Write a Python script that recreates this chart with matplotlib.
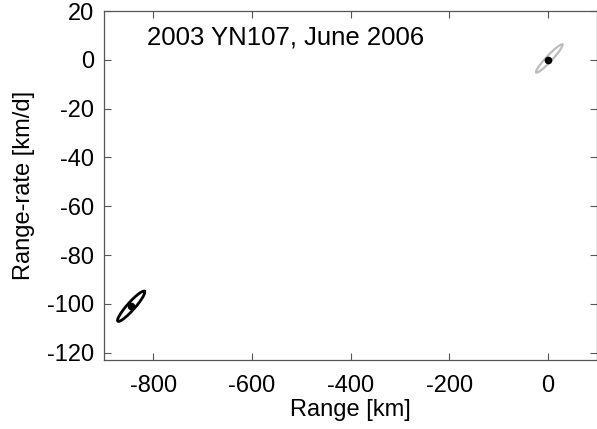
import numpy as np
import matplotlib
matplotlib.use("Agg")
import matplotlib.pyplot as plt

plt.rcParams['font.family'] = ['Liberation Sans', 'DejaVu Sans']
plt.rcParams['axes.unicode_minus'] = False

# Data
title_text = "2003 YN107, June 2006"
x_ticks = [-800, -600, -400, -200, 0]
y_ticks = [20, 0, -20, -40, -60, -80, -100, -120]
x_lim = [-900, 100]
y_lim = [-123, 20]

# Uncertainty ellipses: center, major half-axis vector, minor half-axis vector (data units)
gray_center = [3, 0.5]
gray_major = [26.4, 5.7]
gray_minor = [4.4, -0.84]

black_center = [-845, -101]
black_major = [27.0, 6.1]
black_minor = [5.6, -1.1]

# Observed points
obs_x = [0, -845]
obs_y = [0, -101]

t = np.linspace(0, 2 * np.pi, 200)

def ellipse(c, a, b):
    x = c[0] + a[0] * np.cos(t) + b[0] * np.sin(t)
    y = c[1] + a[1] * np.cos(t) + b[1] * np.sin(t)
    return x, y

fig = plt.figure(figsize=(5.97, 4.29), dpi=100)
ax = fig.add_axes([104 / 597, 1 - 360 / 429, (597 - 104) / 597, (360 - 11) / 429])

gx, gy = ellipse(gray_center, gray_major, gray_minor)
ax.plot(gx, gy, color='#bdbdbd', lw=1.6)
bx, by = ellipse(black_center, black_major, black_minor)
ax.plot(bx, by, color='black', lw=2.0)
ax.plot(obs_x, obs_y, 'o', color='black', ms=4.5)

ax.set_xlim(x_lim)
ax.set_ylim(y_lim)
ax.set_xticks(x_ticks)
ax.set_yticks(y_ticks)
ax.tick_params(direction='in', length=5, width=0.8, top=True, right=True,
               labelsize=17, colors='#555555', labelcolor='black')
ax.tick_params(axis='x', pad=11)
ax.tick_params(axis='y', pad=7)
for s in ax.spines.values():
    s.set_color('#555555')
    s.set_linewidth(0.9)

ax.set_xlabel('Range [km]', fontsize=17, labelpad=1)
ax.set_ylabel('Range-rate [km/d]', fontsize=17, labelpad=9)
ax.text(0.088, 0.925, title_text, transform=ax.transAxes, fontsize=18.5,
        ha='left', va='center')

fig.savefig('out.png', dpi=100)
